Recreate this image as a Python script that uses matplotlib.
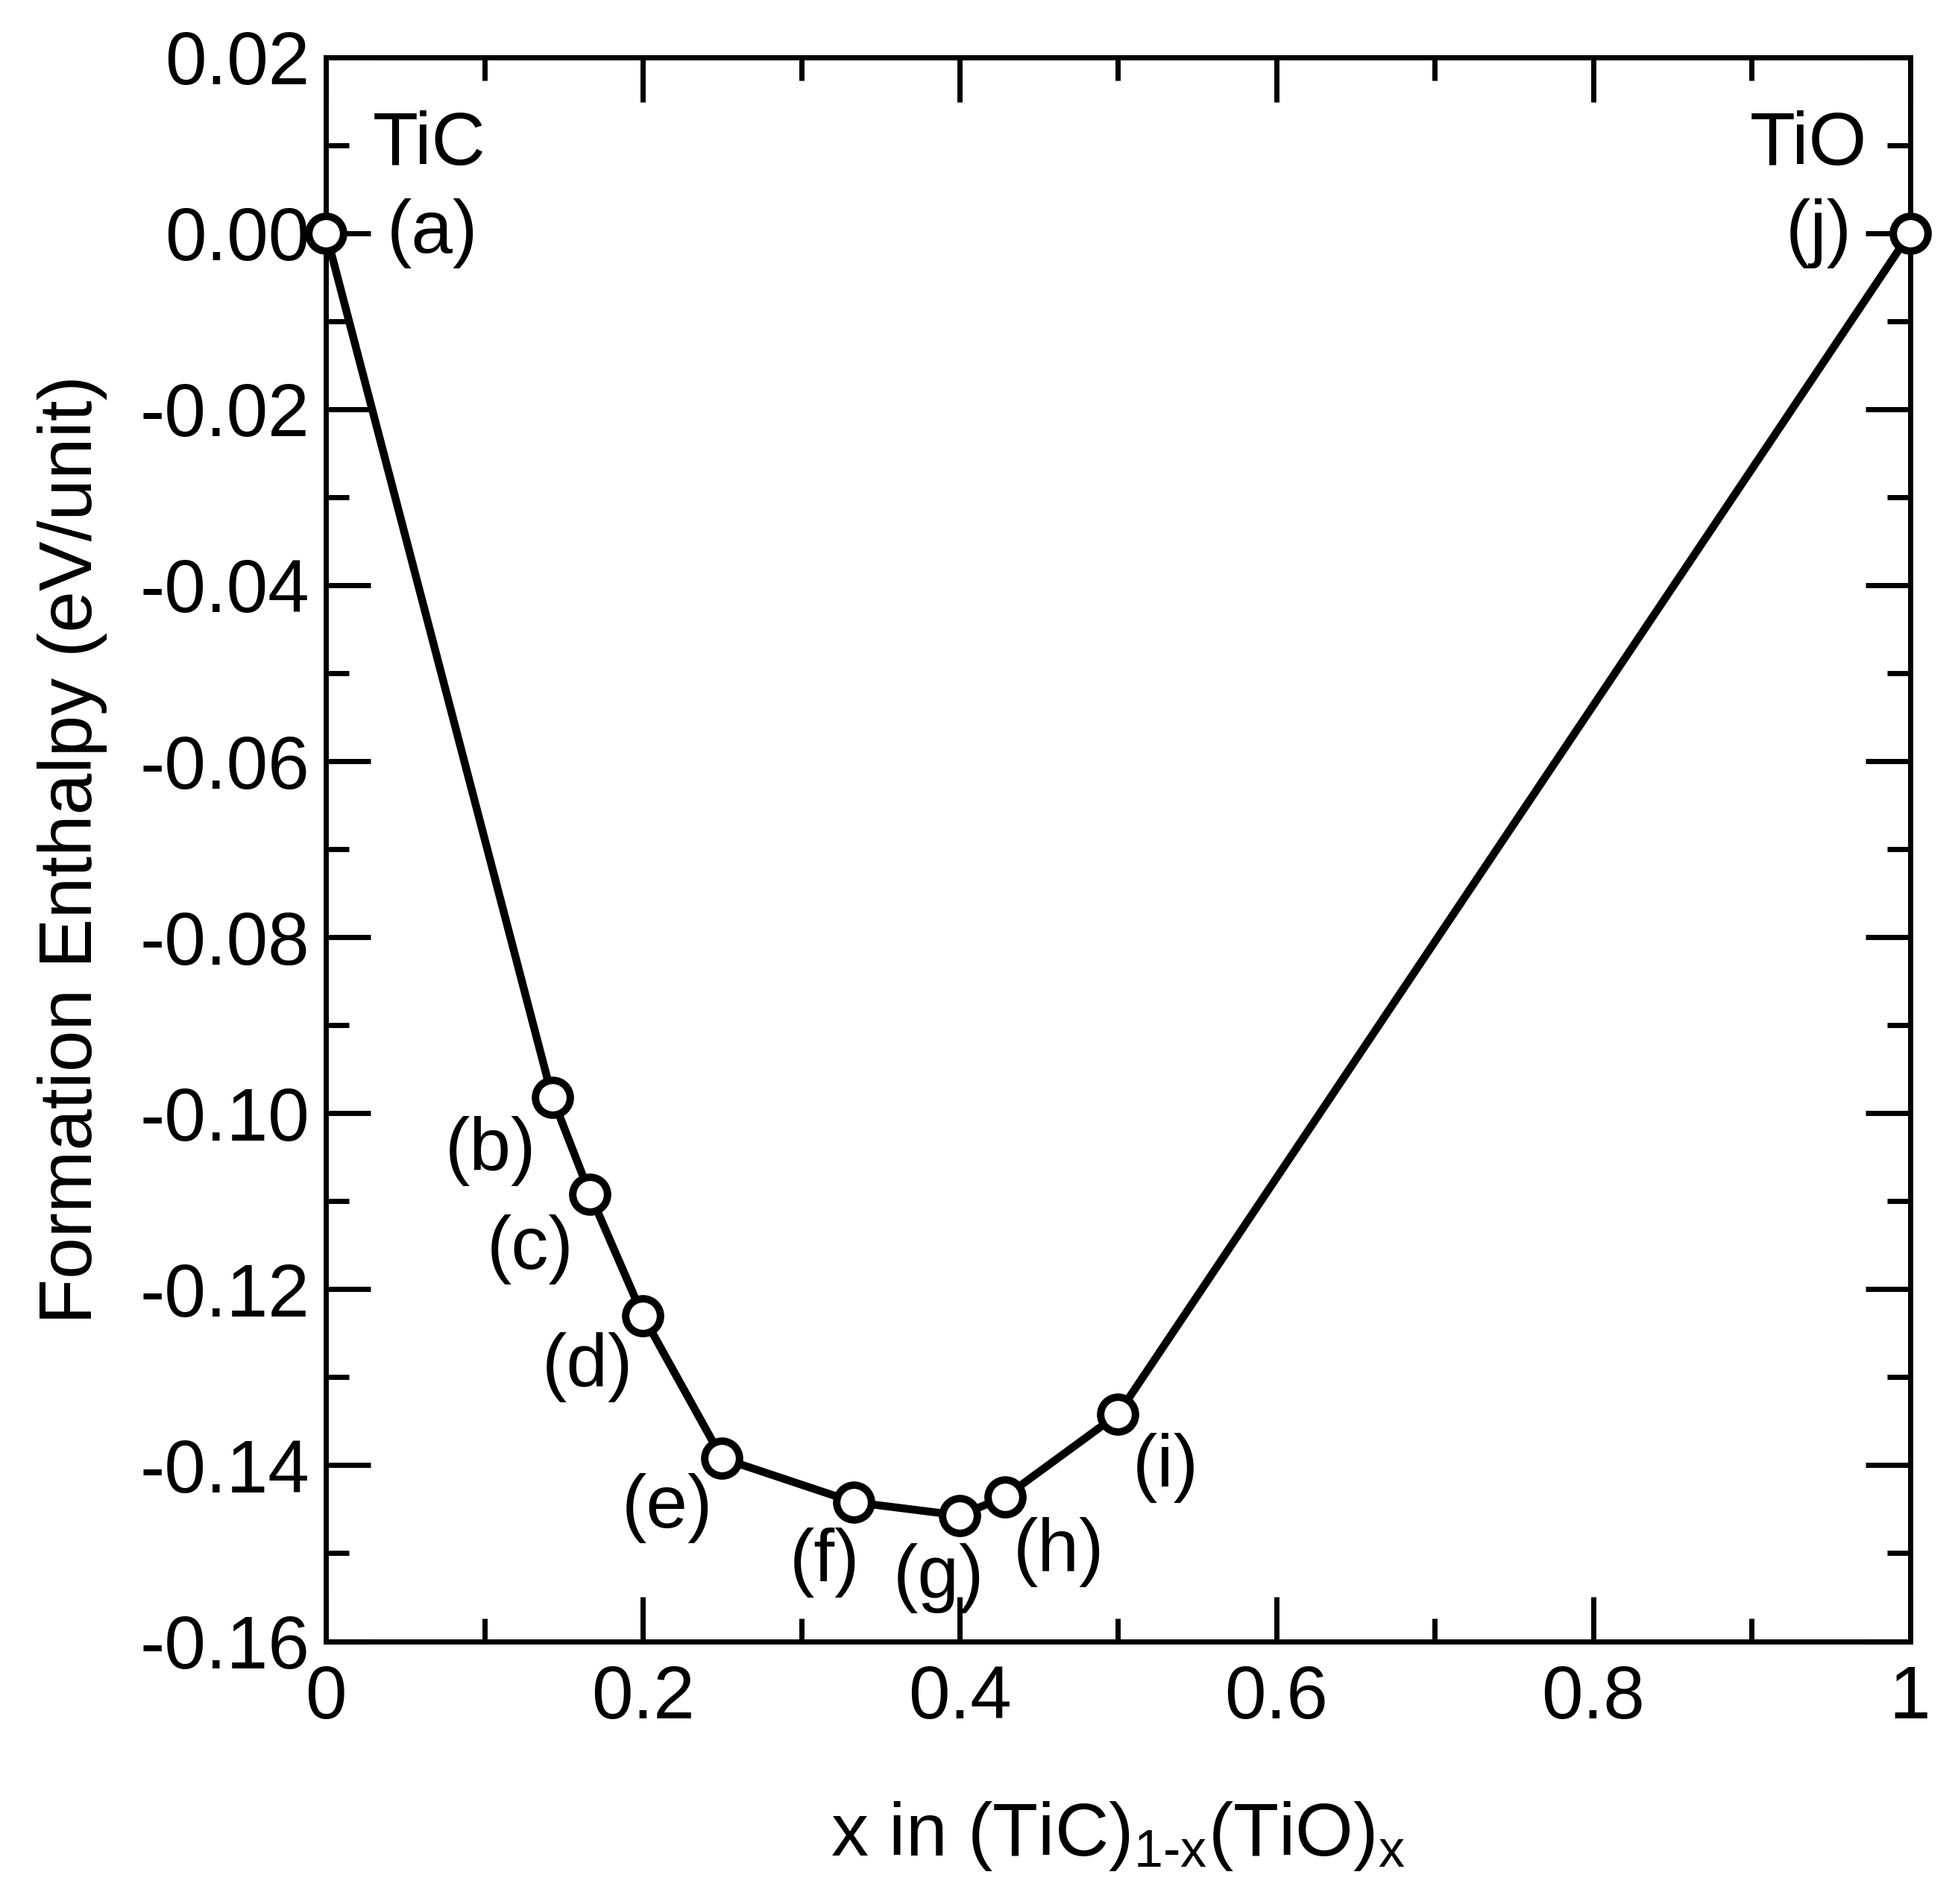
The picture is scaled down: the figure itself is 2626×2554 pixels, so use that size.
import matplotlib
matplotlib.use("Agg")
import matplotlib.pyplot as plt
from matplotlib.ticker import MultipleLocator, FixedFormatter, FixedLocator

plt.rcParams['font.family'] = ['Liberation Sans', 'DejaVu Sans']
plt.rcParams['mathtext.fontset'] = 'custom'
plt.rcParams['mathtext.rm'] = 'Liberation Sans'
plt.rcParams['mathtext.it'] = 'Liberation Sans'

# data
x_vals = [0.0, 1/7, 1/6, 0.2, 0.25, 1/3, 0.4, 3/7, 0.5, 1.0]
y_vals = [0.0, -0.0982, -0.1092, -0.1230, -0.1392, -0.1442, -0.1457, -0.1436, -0.1342, 0.0]
point_labels = ['(a)', '(b)', '(c)', '(d)', '(e)', '(f)', '(g)', '(h)', '(i)', '(j)']
label_x = [0.067, 0.1037, 0.129, 0.165, 0.2153, 0.315, 0.387, 0.4625, 0.530, 0.9426]
label_y = [0.0, -0.1043, -0.1155, -0.1289, -0.1449, -0.1511, -0.1528, -0.1499, -0.1403, 0.0]
end_names = ['TiC', 'TiO']
end_x = [0.065, 0.936]
end_y = [0.010, 0.010]
xticks = [0, 0.2, 0.4, 0.6, 0.8, 1.0]
xtick_labels = ['0', '0.2', '0.4', '0.6', '0.8', '1']
yticks = [0.02, 0.0, -0.02, -0.04, -0.06, -0.08, -0.10, -0.12, -0.14, -0.16]
ytick_labels = ['0.02', '0.00', '-0.02', '-0.04', '-0.06', '-0.08', '-0.10', '-0.12', '-0.14', '-0.16']

dpi = 200
fig = plt.figure(figsize=(2626/dpi, 2554/dpi), dpi=dpi)
ax = fig.add_axes([0.1665, 0.138, 0.9755-0.1665, 0.970-0.138])

ax.plot(x_vals, y_vals, color='black', lw=3.8, marker='o', ms=16.8,
        mfc='white', mec='black', mew=3.6, clip_on=False, zorder=5)

fs = 36
for t, lx, ly in zip(point_labels, label_x, label_y):
    ax.text(lx, ly, t, fontsize=fs, ha='center', va='center')
for t, lx, ly in zip(end_names, end_x, end_y):
    ax.text(lx, ly, t, fontsize=fs, ha='center', va='center')

ax.set_xlim(0, 1)
ax.set_ylim(-0.16, 0.02)
ax.xaxis.set_major_locator(FixedLocator(xticks))
ax.xaxis.set_major_formatter(FixedFormatter(xtick_labels))
ax.xaxis.set_minor_locator(MultipleLocator(0.1))
ax.yaxis.set_major_locator(FixedLocator(yticks))
ax.yaxis.set_major_formatter(FixedFormatter(ytick_labels))
ax.yaxis.set_minor_locator(MultipleLocator(0.01))

ax.tick_params(which='both', direction='in', top=True, right=True, width=2.5, labelsize=fs)
ax.tick_params(which='major', length=21.5)
ax.tick_params(which='minor', length=11)
ax.tick_params(axis='x', which='major', pad=11)
ax.tick_params(axis='y', which='major', pad=8)
for s in ax.spines.values():
    s.set_linewidth(2.5)

ax.set_xlabel(r'x in (TiC)$_{\mathregular{1\text{-}x}}$(TiO)$_{\mathregular{x}}$', fontsize=fs)
ax.set_ylabel('Formation Enthalpy (eV/unit)', fontsize=fs)
ax.xaxis.set_label_coords(0.5, -0.100)
ax.yaxis.set_label_coords(-0.138, 0.5)

fig.savefig('out.png', dpi=dpi)
